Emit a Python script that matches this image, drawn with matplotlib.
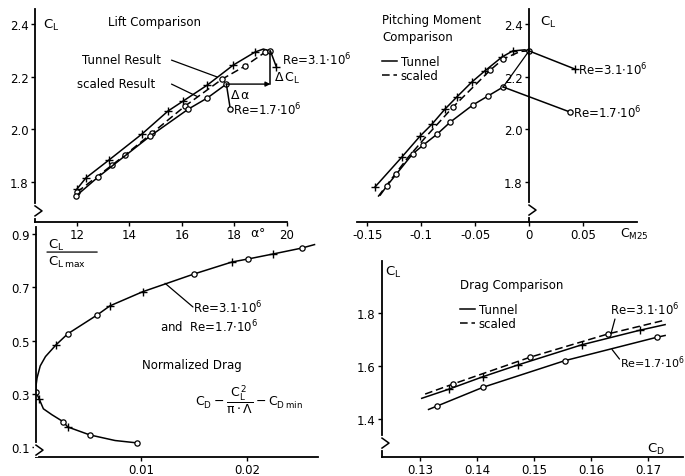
from matplotlib import pyplot as plt
from matplotlib.lines import Line2D

plt.rcParams['font.family'] = 'DejaVu Sans'
plt.rcParams['mathtext.default'] = 'regular'
plt.rcParams['font.size'] = 8.5

# ---- Lift comparison: alpha [deg] vs C_L
lift_alpha_tunnel = [12.0, 12.34, 13.22, 14.48, 15.47, 16.05, 16.96, 17.95, 18.79, 19.1, 19.37]
lift_cl_tunnel = [1.774, 1.816, 1.884, 1.983, 2.070, 2.108, 2.168, 2.244, 2.294, 2.305, 2.297]
lift_alpha_scaled = [12.0, 13.34, 13.83, 14.86, 16.12, 17.53, 18.41, 19.18, 19.37]
lift_cl_scaled = [1.762, 1.865, 1.903, 1.986, 2.089, 2.191, 2.241, 2.294, 2.297]
lift_alpha_re17 = [11.96, 12.8, 14.79, 16.24, 16.96, 17.69]
lift_cl_re17 = [1.747, 1.819, 1.975, 2.077, 2.119, 2.172]
lift_stall_alpha_re31 = [19.37, 19.6]
lift_stall_cl_re31 = [2.297, 2.236]
lift_stall_alpha_re17 = [17.69, 17.84]
lift_stall_cl_re17 = [2.172, 2.077]

# ---- Pitching moment: C_M25 vs C_L
pm_cm_tunnel = [-0.143, -0.118, -0.101, -0.090, -0.078, -0.067, -0.053, -0.041, -0.025, -0.015, -0.004, 0.0]
pm_cl_tunnel = [1.781, 1.895, 1.975, 2.020, 2.077, 2.123, 2.180, 2.222, 2.275, 2.298, 2.302, 2.298]
pm_cm_scaled = [-0.140, -0.128, -0.112, -0.095, -0.0705, -0.036, -0.024, -0.008, 0.0]
pm_cl_scaled = [1.745, 1.810, 1.895, 1.975, 2.085, 2.225, 2.267, 2.296, 2.298]
pm_cm_re17 = [-0.138, -0.132, -0.123, -0.108, -0.098, -0.085, -0.073, -0.052, -0.038, -0.024]
pm_cl_re17 = [1.751, 1.785, 1.831, 1.907, 1.941, 1.983, 2.028, 2.093, 2.127, 2.161]
pm_stall_cm_re31 = [0.0, 0.0427]
pm_stall_cl_re31 = [2.298, 2.229]
pm_stall_cm_re17 = [-0.024, 0.038]
pm_stall_cl_re17 = [2.161, 2.066]
pm_link_cm = [-0.024, 0.0]
pm_link_cl = [2.161, 2.298]

# ---- Normalized drag: C_D - C_L^2/(pi A) - C_Dmin vs C_L/C_Lmax
norm_x = [0.0096, 0.0075, 0.0051, 0.0030, 0.0026, 0.0015, 0.0007, 0.0003, 0.0, 0.0,
          0.0001, 0.0004, 0.0009, 0.0019, 0.0030, 0.0058, 0.0070, 0.0101, 0.0150,
          0.0186, 0.0201, 0.0225, 0.0252, 0.0264]
norm_y = [0.116, 0.125, 0.146, 0.176, 0.195, 0.222, 0.244, 0.281, 0.307, 0.33,
          0.36, 0.405, 0.44, 0.484, 0.525, 0.596, 0.63, 0.683, 0.75,
          0.795, 0.806, 0.825, 0.847, 0.86]
norm_circles = [0, 2, 4, 8, 14, 15, 18, 20, 22]
norm_pluses = [3, 7, 13, 16, 17, 19, 21]

# ---- Drag comparison: C_D vs C_L
dc_cd_tunnel = [0.1303, 0.135, 0.1411, 0.1472, 0.1584, 0.1686, 0.173]
dc_cl_tunnel = [1.478, 1.512, 1.560, 1.604, 1.680, 1.735, 1.756]
dc_cd_scaled = [0.1309, 0.1358, 0.1493, 0.163, 0.1726]
dc_cl_scaled = [1.494, 1.532, 1.633, 1.721, 1.771]
dc_cd_re17 = [0.1315, 0.1329, 0.1411, 0.1554, 0.1715, 0.173]
dc_cl_re17 = [1.436, 1.448, 1.520, 1.620, 1.708, 1.715]

W, H = 685, 477

SOLID = dict(color='k', lw=1.1)
DASHED = dict(color='k', lw=1.1, ls=(0, (5, 2.5)))
CIRC = dict(marker='o', mfc='white', mec='k', ms=3.8, mew=0.9)
PLUS = dict(marker='+', mec='k', ms=6, mew=1.0)
LEAD = dict(arrowstyle='-', lw=0.9, color='k', shrinkA=0, shrinkB=0)


def px_axes(fig, l, t, r, b):
    ax = fig.add_axes([l / W, 1 - b / H, (r - l) / W, (b - t) / H])
    for s in ['top', 'right']:
        ax.spines[s].set_visible(False)
    ax.spines['left'].set_linewidth(1.3)
    ax.spines['bottom'].set_linewidth(1.3)
    ax.tick_params(direction='out', length=3, width=1.0, pad=1.5, labelsize=8.5)
    ax.patch.set_alpha(0)
    return ax, (r - l), (b - t)


def axis_break(ax, xfrac, yfrac, wpx, hpx):
    dx = 7.0 / wpx
    dy = 5.0 / hpx
    ax.plot([xfrac, xfrac], [yfrac - dy, yfrac + dy], color='white', lw=3,
            transform=ax.transAxes, clip_on=False, zorder=5)
    ax.plot([xfrac, xfrac + dx, xfrac], [yfrac + dy, yfrac, yfrac - dy], color='k',
            lw=1.1, transform=ax.transAxes, clip_on=False, zorder=6)


fig = plt.figure(figsize=(W / 100, H / 100), dpi=100)

# ------------------------------------------------ Lift comparison
ax, w, h = px_axes(fig, 35, 10, 287, 223)
ax.set_xlim(10.4, 20.0)
ax.set_ylim(1.6486, 2.457)
ax.set_xticks([12, 14, 16, 18, 20])
ax.set_yticks([1.8, 2.0, 2.2, 2.4])
ax.set_yticklabels(['1.8', '2.0', '2.2', '2.4'])
ax.tick_params(axis='x', pad=1.0)
ax.plot(lift_alpha_tunnel, lift_cl_tunnel, **SOLID, **PLUS, markevery=list(range(9)))
ax.plot(lift_alpha_scaled, lift_cl_scaled, **DASHED, **CIRC, markevery=list(range(9)))
ax.plot(lift_alpha_re17, lift_cl_re17, **SOLID, **CIRC)
ax.plot(lift_stall_alpha_re31, lift_stall_cl_re31, **SOLID, **PLUS, markevery=[1])
ax.plot(lift_stall_alpha_re17, lift_stall_cl_re17, **SOLID, **CIRC, markevery=[1])
ax.plot([lift_alpha_scaled[-1]] * 2, [lift_cl_scaled[-1], lift_cl_re17[-1]], **SOLID)
ax.annotate('', xy=(lift_alpha_scaled[-1], lift_cl_re17[-1]),
            xytext=(lift_alpha_re17[-1], lift_cl_re17[-1]),
            arrowprops=dict(arrowstyle='-|>', lw=1.0, color='k', mutation_scale=7,
                            shrinkA=0, shrinkB=0))
ax.text(10.7, 2.40, '$C_L$', fontsize=9.5, va='center')
ax.text(13.2, 2.41, 'Lift Comparison', fontsize=8.5, va='center')
ax.text(12.2, 2.267, 'Tunnel Result', fontsize=8.5, va='center')
ax.annotate('', xy=(17.34, 2.199), xytext=(15.6, 2.263), arrowprops=LEAD)
ax.text(12.0, 2.176, 'scaled Result', fontsize=8.5, va='center')
ax.annotate('', xy=(16.58, 2.125), xytext=(15.6, 2.172), arrowprops=LEAD)
ax.text(18.2, 2.134, r'$\Delta\,\alpha$', fontsize=9, ha='center', va='center')
ax.text(19.5, 2.199, r'$\Delta\,C_L$', fontsize=9, va='center')
ax.text(19.8, 2.267, r'Re=3.1$\cdot$10$^6$', fontsize=8.5, va='center')
ax.text(17.95, 2.077, r'Re=1.7$\cdot$10$^6$', fontsize=8.5, va='center')
ax.annotate(r'$\alpha$°', xy=(18.9, 0), xycoords=('data', 'axes fraction'),
            xytext=(0, -3.0), textcoords='offset points', ha='center', va='top',
            fontsize=9)
axis_break(ax, 0.0, 0.052, w, h)

# ------------------------------------------------ Pitching moment
ax, w, h = px_axes(fig, 357, 10, 637, 223)
ax.set_xlim(-0.1596, 0.1002)
ax.set_ylim(1.6486, 2.457)
ax.spines['left'].set_position(('data', 0))
ax.set_xticks([-0.15, -0.1, -0.05, 0, 0.05])
ax.set_xticklabels(['-0.15', '-0.1', '-0.05', '0', '0.05'])
ax.set_yticks([1.8, 2.0, 2.2, 2.4])
ax.set_yticklabels(['1.8', '2.0', '2.2', '2.4'])
ax.tick_params(axis='x', pad=1.0)
ax.plot(pm_cm_tunnel, pm_cl_tunnel, **SOLID, **PLUS, markevery=list(range(10)))
ax.plot(pm_cm_scaled, pm_cl_scaled, **DASHED, **CIRC, markevery=[4, 5, 6, 8])
ax.plot(pm_cm_re17, pm_cl_re17, **SOLID, **CIRC, markevery=list(range(1, 10)))
ax.plot(pm_link_cm, pm_link_cl, color='k', lw=0.9)
ax.plot(pm_stall_cm_re31, pm_stall_cl_re31, **SOLID, **PLUS, markevery=[1])
ax.plot(pm_stall_cm_re17, pm_stall_cl_re17, **SOLID, **CIRC, markevery=[1])
ax.text(-0.1364, 2.419, 'Pitching Moment', fontsize=8.5, va='center')
ax.text(-0.1364, 2.354, 'Comparison', fontsize=8.5, va='center')
ax.text(0.0102, 2.411, '$C_L$', fontsize=9.5, va='center')
ax.text(0.0455, 2.229, r'Re=3.1$\cdot$10$^6$', fontsize=8.5, va='center')
ax.text(0.041, 2.066, r'Re=1.7$\cdot$10$^6$', fontsize=8.5, va='center')
ax.annotate('$C_{M25}$', xy=(0.0844, 0), xycoords=('data', 'axes fraction'),
            xytext=(0, -3.0), textcoords='offset points', ha='left', va='top',
            fontsize=9)
ax.legend([Line2D([], [], **SOLID), Line2D([], [], **DASHED)], ['Tunnel', 'scaled'],
          loc='upper left', bbox_to_anchor=(0.089, 0.784), frameon=False,
          handlelength=1.3, handletextpad=0.3, labelspacing=0.1, borderpad=0,
          borderaxespad=0, fontsize=8.5)
axis_break(ax, (0 + 0.1596) / (0.1002 + 0.1596), 0.056, w, h)

# ------------------------------------------------ Normalized drag
ax, w, h = px_axes(fig, 36, 228, 318, 458)
ax.set_xlim(0.0, 0.02673)
ax.set_ylim(0.0632, 0.926)
ax.set_xticks([0.01, 0.02])
ax.set_xticklabels(['0.01', '0.02'])
ax.set_yticks([0.1, 0.3, 0.5, 0.7, 0.9])
ax.set_yticklabels(['0.1', '0.3', '0.5', '0.7', '0.9'])
ax.plot(norm_x, norm_y, **SOLID)
ax.plot([norm_x[i] for i in norm_circles], [norm_y[i] for i in norm_circles],
        ls='none', **CIRC)
ax.plot([norm_x[i] for i in norm_pluses], [norm_y[i] for i in norm_pluses],
        ls='none', **PLUS)
# C_L / C_Lmax written as a stacked fraction
ax.text(0.00115, 0.862, '$C_L$', fontsize=9.5, ha='left', va='center')
ax.annotate('', xy=(0.0058, 0.832), xytext=(0.00104, 0.832), arrowprops=LEAD)
ax.text(0.00115, 0.795, '$C_{L\\,max}$', fontsize=9.5, ha='left', va='center')
ax.text(0.01005, 0.412, 'Normalized Drag', fontsize=8.5, va='center')
ax.text(0.0151, 0.278, r'$C_D - \dfrac{C_L^{\,2}}{\pi\cdot\Lambda} - C_{D\,min}$',
        fontsize=9, va='center')
ax.text(0.01488, 0.626, r'Re=3.1$\cdot$10$^6$', fontsize=8.5, va='center')
ax.text(0.01175, 0.555, r'and  Re=1.7$\cdot$10$^6$', fontsize=8.5, va='center')
ax.annotate('', xy=(0.01223, 0.715), xytext=(0.01488, 0.626), arrowprops=LEAD)
axis_break(ax, 0.0, 0.03, w, h)

# ------------------------------------------------ Drag comparison
ax, w, h = px_axes(fig, 382, 262, 683, 458)
ax.set_xlim(0.12333, 0.17614)
ax.set_ylim(1.2566, 1.996)
ax.set_xticks([0.13, 0.14, 0.15, 0.16, 0.17])
ax.set_xticklabels(['0.13', '0.14', '0.15', '0.16', '0.17'])
ax.set_yticks([1.4, 1.6, 1.8])
ax.set_yticklabels(['1.4', '1.6', '1.8'])
ax.plot(dc_cd_scaled, dc_cl_scaled, **DASHED, **CIRC, markevery=[1, 2, 3])
ax.plot(dc_cd_tunnel, dc_cl_tunnel, **SOLID, **PLUS, markevery=[1, 2, 3, 4, 5])
ax.plot(dc_cd_re17, dc_cl_re17, **SOLID, **CIRC, markevery=[1, 2, 3, 4])
ax.text(0.1239, 1.955, '$C_L$', fontsize=9.5, va='center')
ax.text(0.137, 1.909, 'Drag Comparison', fontsize=8.5, va='center')
ax.text(0.1698, 1.287, '$C_D$', fontsize=9.5, va='center')
ax.text(0.1633, 1.815, r'Re=3.1$\cdot$10$^6$', fontsize=8.5, va='center')
ax.annotate('', xy=(0.1635, 1.721), xytext=(0.1642, 1.777), arrowprops=LEAD)
ax.text(0.1650, 1.615, r'Re=1.7$\cdot$10$^6$', fontsize=8, va='center')
ax.annotate('', xy=(0.1637, 1.662), xytext=(0.1650, 1.626), arrowprops=LEAD)
ax.legend([Line2D([], [], **SOLID), Line2D([], [], **DASHED)], ['Tunnel', 'scaled'],
          loc='upper left', bbox_to_anchor=(0.259, 0.786), frameon=False,
          handlelength=1.3, handletextpad=0.3, labelspacing=0.1, borderpad=0,
          borderaxespad=0, fontsize=8.5)
axis_break(ax, 0.0, 0.071, w, h)

fig.savefig('out.png', dpi=100, facecolor='white')
